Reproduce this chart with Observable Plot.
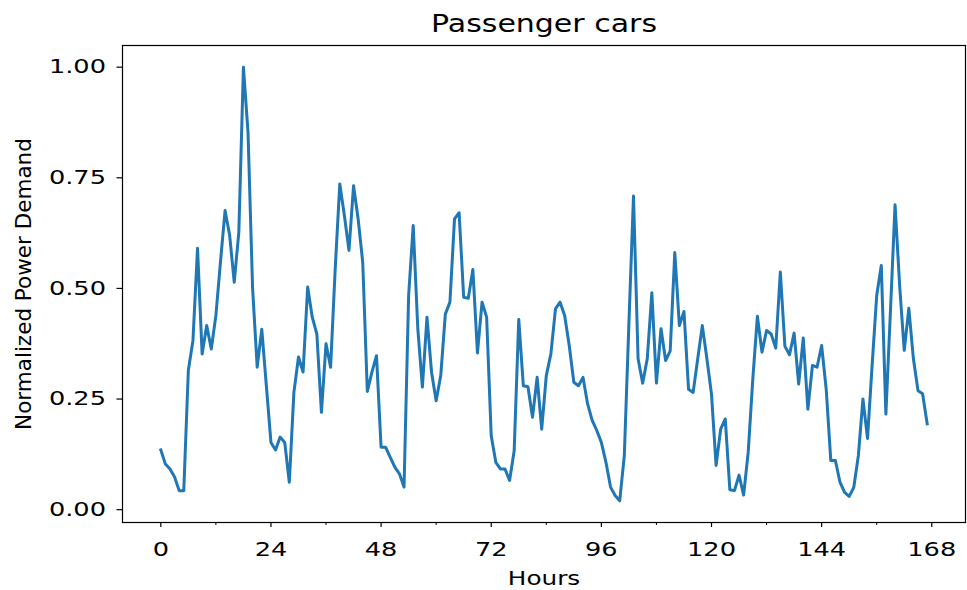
<!DOCTYPE html>
<html>
<head>
<meta charset="utf-8">
<script src="https://cdn.jsdelivr.net/npm/d3@7"></script>
<script src="https://cdn.jsdelivr.net/npm/@observablehq/plot@0.6"></script>
<style>
  body { margin: 0; background: #fff; }
  #chart svg { font-family: "DejaVu Sans", sans-serif; }
</style>
</head>
<body>
<div id="chart"></div>
<script>
// Hourly normalized power demand of passenger cars over one week (hours 0–167)
const demand = [
  0.135, 0.103, 0.092, 0.074, 0.043, 0.043, 0.315, 0.382, 0.591, 0.352, 0.416, 0.363,
  0.439, 0.560, 0.676, 0.620, 0.514, 0.627, 1.000, 0.853, 0.500, 0.322, 0.408, 0.280,
  0.152, 0.135, 0.164, 0.152, 0.062, 0.265, 0.345, 0.311, 0.503, 0.435, 0.397, 0.220,
  0.375, 0.322, 0.544, 0.736, 0.665, 0.586, 0.732, 0.657, 0.559, 0.267, 0.311, 0.348,
  0.141, 0.141, 0.118, 0.096, 0.081, 0.051, 0.484, 0.642, 0.409, 0.277, 0.435, 0.310,
  0.246, 0.303, 0.442, 0.469, 0.657, 0.671, 0.480, 0.478, 0.543, 0.354, 0.469, 0.435,
  0.167, 0.107, 0.092, 0.092, 0.066, 0.133, 0.430, 0.280, 0.278, 0.209, 0.299, 0.182,
  0.303, 0.352, 0.454, 0.469, 0.439, 0.371, 0.288, 0.280, 0.299, 0.239, 0.202, 0.179,
  0.152, 0.107, 0.051, 0.032, 0.020, 0.122, 0.420, 0.709, 0.341, 0.286, 0.341, 0.490,
  0.286, 0.409, 0.337, 0.359, 0.581, 0.416, 0.448, 0.272, 0.265, 0.341, 0.416, 0.341,
  0.261, 0.100, 0.182, 0.205, 0.045, 0.043, 0.078, 0.033, 0.130, 0.295, 0.437, 0.356,
  0.405, 0.397, 0.365, 0.537, 0.369, 0.350, 0.399, 0.284, 0.388, 0.227, 0.326, 0.322,
  0.371, 0.272, 0.111, 0.111, 0.062, 0.039, 0.030, 0.050, 0.122, 0.250, 0.161, 0.326,
  0.484, 0.552, 0.216, 0.450, 0.689, 0.506, 0.360, 0.455, 0.341, 0.269, 0.262, 0.194
];

const xTicks = [0, 24, 48, 72, 96, 120, 144, 168];
const xMinorTicks = [12, 36, 60, 84, 108, 132, 156];
const yTicks = [0, 0.25, 0.5, 0.75, 1];

const titleText = "Passenger cars";
const xLabel = "Hours";
const yLabel = "Normalized Power Demand";

const chart = Plot.plot({
  width: 967,
  height: 590,
  marginLeft: 122,
  marginRight: 2,
  marginTop: 45,
  marginBottom: 68,
  style: { fontFamily: "DejaVu Sans", background: "white", color: "black", overflow: "visible" },
  x: { domain: [-8.35, 175.35] },
  y: { domain: [-0.029, 1.049] },
  marks: [
    Plot.axisX(xTicks, { tickSize: 5, tickPadding: 15, fontSize: 19, label: null, tickFormat: d => String(d), strokeWidth: 1.2 }),
    Plot.axisX(xMinorTicks, { tickSize: 3, tickFormat: () => "", label: null, strokeWidth: 1 }),
    Plot.axisY(yTicks, { tickSize: 5.5, tickPadding: 11, fontSize: 19, label: null, tickFormat: d3.format(".2f"), strokeWidth: 1.2 }),
    Plot.line(demand, { x: (d, i) => i, y: d => d, stroke: "#1f77b4", strokeWidth: 3, strokeLinejoin: "round", strokeLinecap: "square" }),
    Plot.frame({ stroke: "black", strokeWidth: 1.2 }),
    Plot.text([titleText], { frameAnchor: "top", lineAnchor: "middle", textAnchor: "middle", dy: -21, fontSize: 24, fill: "black" }),
    Plot.text([xLabel], { frameAnchor: "bottom", lineAnchor: "middle", textAnchor: "middle", dy: 56, fontSize: 19, fill: "black" }),
    Plot.text([yLabel], { frameAnchor: "left", lineAnchor: "middle", textAnchor: "middle", dx: -98, rotate: -90, fontSize: 21.5, fill: "black" })
  ]
});

document.getElementById("chart").appendChild(chart);

// Widen the glyphs horizontally around each label's anchor point
function widenText(t, s) {
  const tr = t.getAttribute("transform") || "";
  const x = parseFloat(t.getAttribute("x")) || 0;
  t.setAttribute("transform", `${tr} translate(${x},0) scale(${s},1) translate(${-x},0)`);
}
chart.querySelectorAll('g[aria-label="x-axis tick label"] text, g[aria-label="y-axis tick label"] text')
  .forEach(t => widenText(t, 1.35));
chart.querySelectorAll("text").forEach(t => {
  if (t.textContent === titleText) widenText(t, 1.25);
  else if (t.textContent === xLabel) widenText(t, 1.3);
});
</script>
</body>
</html>
